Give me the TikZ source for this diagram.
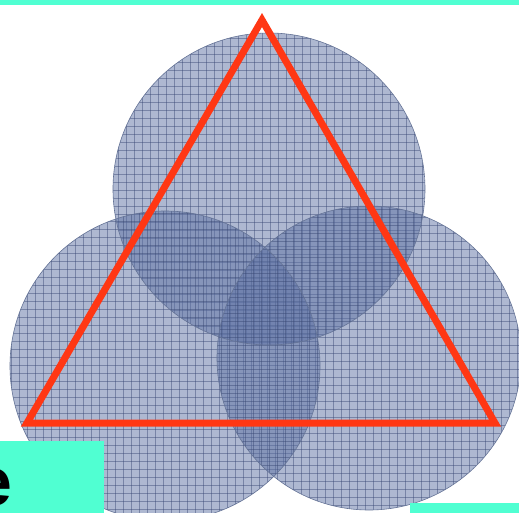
\documentclass[tikz,border=0pt]{standalone}
\usepackage{fontspec}
\setmainfont{Liberation Sans}
\definecolor{cyanbar}{RGB}{80,255,210}
\definecolor{circfill}{RGB}{95,115,165}
\definecolor{gridc}{RGB}{55,70,115}
\definecolor{circline}{RGB}{100,115,150}
\definecolor{tri}{RGB}{255,55,20}
\tikzset{
  disc/.style={fill=circfill, fill opacity=0.5},
  gridl/.style={draw=gridc, line width=0.7pt, opacity=0.45},
  rim/.style={draw=circline, line width=0.6pt},
  trian/.style={draw=tri, line width=7pt, line join=miter},
  cyanbox/.style={fill=cyanbar, draw=none}
}
\begin{document}
\begin{tikzpicture}[x=1pt,y=-1pt]
\useasboundingbox (0,0) rectangle (519,513);
\fill[white] (0,0) rectangle (519,513);
% circles
\coordinate (ct) at (269,189);
\coordinate (cl) at (165,366);
\coordinate (cr) at (369,358);
\begin{scope}
  \clip (ct) circle (156);
  \fill[disc] (ct) circle (156);
  \foreach \k in {0,...,41} {
    \draw[gridl] (110+8*\k,30) -- (110+8*\k,350);
    \draw[gridl] (110,30+8*\k) -- (430,30+8*\k);
  }
\end{scope}
\begin{scope}
  \clip (cl) circle (155);
  \fill[disc] (cl) circle (155);
  \foreach \k in {0,...,41} {
    \draw[gridl] (3+8*\k,205) -- (3+8*\k,520);
    \draw[gridl] (3,205+8*\k) -- (330,205+8*\k);
  }
\end{scope}
\begin{scope}
  \clip (cr) circle (152);
  \fill[disc] (cr) circle (152);
  \foreach \k in {0,...,41} {
    \draw[gridl] (213+8*\k,200) -- (213+8*\k,520);
    \draw[gridl] (213,201+8*\k) -- (525,201+8*\k);
  }
\end{scope}
\draw[rim] (ct) circle (156);
\draw[rim] (cl) circle (155);
\draw[rim] (cr) circle (152);
% triangle
\coordinate (ta) at (262,20);
\coordinate (tl) at (27,423);
\coordinate (tr) at (495,423);
\draw[trian] (ta) -- (tl) -- (tr) -- cycle;
% cyan bars
\fill[cyanbox] (0,0) rectangle (519,5);
\fill[cyanbox] (0,441) rectangle (104,513);
\fill[cyanbox] (410,503) rectangle (519,513);
\node[anchor=base east, inner sep=0pt, font=\fontsize{68}{68}\selectfont\bfseries] (e) at (13,505) {e};
\end{tikzpicture}
\end{document}
